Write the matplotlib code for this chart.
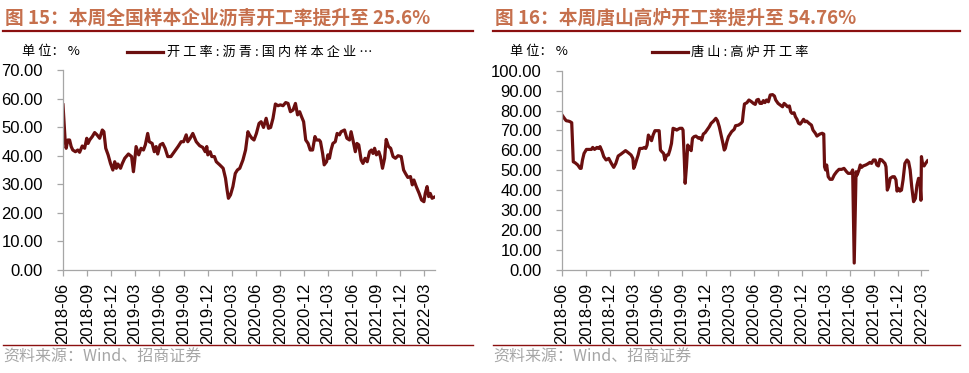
import matplotlib
matplotlib.use('Agg')
import matplotlib.pyplot as plt
import matplotlib.dates as mdates
from matplotlib.lines import Line2D
from matplotlib.ticker import FormatStrFormatter, MultipleLocator
import pandas as pd

# ---------------- data ----------------
titles = ['图 15：本周全国样本企业沥青开工率提升至 25.6%',
          '图 16：本周唐山高炉开工率提升至 54.76%']
legend_labels = ['开工率:沥青:国内样本企业…', '唐山:高炉开工率']
unit_label = '单 位： %'
source_label = '资料来源：Wind、招商证券'

asphalt_dates = (
    ['2018-06-01', '2018-06-09', '2018-06-13', '2018-06-19', '2018-06-26', '2018-07-02', '2018-07-08',
     '2018-07-18', '2018-07-27', '2018-08-03', '2018-08-13', '2018-08-22', '2018-08-30', '2018-09-04',
     '2018-09-10', '2018-09-20', '2018-09-29', '2018-10-08', '2018-10-18', '2018-10-28', '2018-11-03',
     '2018-11-10', '2018-11-19', '2018-11-28', '2018-12-07', '2018-12-14', '2018-12-20', '2018-12-26']
    + ['2019-01-05', '2019-01-12', '2019-01-21', '2019-02-04', '2019-02-16', '2019-02-23', '2019-02-28',
       '2019-03-05', '2019-03-15', '2019-03-24', '2019-04-02', '2019-04-09', '2019-04-18', '2019-04-24',
       '2019-05-05', '2019-05-13', '2019-05-20', '2019-05-26', '2019-06-04', '2019-06-14', '2019-06-23',
       '2019-07-03', '2019-07-15', '2019-07-28', '2019-08-11', '2019-08-23', '2019-09-01', '2019-09-11',
       '2019-09-17', '2019-09-26', '2019-10-06', '2019-10-19', '2019-11-01', '2019-11-13', '2019-11-22',
       '2019-11-28', '2019-12-02', '2019-12-11', '2019-12-17', '2019-12-27']
    + ['2020-01-03', '2020-01-16', '2020-01-29', '2020-02-07', '2020-02-13', '2020-02-18', '2020-02-26',
       '2020-03-06', '2020-03-15', '2020-03-23', '2020-04-01', '2020-04-13', '2020-04-23', '2020-05-02',
       '2020-05-08', '2020-05-17', '2020-05-25', '2020-06-03', '2020-06-13', '2020-06-21', '2020-06-30',
       '2020-07-10', '2020-07-19', '2020-07-27', '2020-08-05', '2020-08-14', '2020-08-24', '2020-09-02',
       '2020-09-12', '2020-09-22', '2020-10-01', '2020-10-10', '2020-10-20', '2020-10-29', '2020-11-06',
       '2020-11-14', '2020-11-21', '2020-11-29', '2020-12-07', '2020-12-16', '2020-12-24']
    + ['2021-01-02', '2021-01-11', '2021-01-17', '2021-01-27', '2021-02-01', '2021-02-09', '2021-02-15',
       '2021-02-24', '2021-03-01', '2021-03-07', '2021-03-13', '2021-03-20', '2021-03-29', '2021-04-05',
       '2021-04-14', '2021-04-20', '2021-05-03', '2021-05-12', '2021-05-22', '2021-05-28', '2021-06-04',
       '2021-06-13', '2021-06-19', '2021-06-26', '2021-07-05', '2021-07-12', '2021-07-20', '2021-07-28',
       '2021-08-06', '2021-08-13', '2021-08-19', '2021-08-25', '2021-09-01', '2021-09-10', '2021-09-16',
       '2021-09-24', '2021-10-02', '2021-10-08', '2021-10-17', '2021-10-25', '2021-11-03', '2021-11-12',
       '2021-11-22', '2021-12-04', '2021-12-13', '2021-12-20', '2021-12-29']
    + ['2022-01-08', '2022-01-15', '2022-01-21', '2022-01-30', '2022-02-10', '2022-02-19', '2022-02-28',
       '2022-03-05', '2022-03-12', '2022-03-18', '2022-03-24', '2022-03-31', '2022-04-06', '2022-04-11']
)
asphalt_rate = (
    [57.8, 45.5, 42.6, 45.5, 45.5, 43.2, 42.0, 41.4, 42.0, 41.2, 43.4, 42.6, 46.1, 44.3,
     45.5, 46.7, 48.1, 47.3, 46.1, 49.0, 48.4, 42.6, 40.3, 37.3, 35.0, 37.9, 35.6, 37.1]
    + [35.6, 37.3, 39.1, 40.6, 39.7, 34.4, 38.5, 43.2, 40.3, 42.6, 42.0, 43.8, 47.8, 44.9,
       44.3, 41.4, 43.2, 40.6, 43.8, 44.3, 42.6, 39.7, 39.7, 41.4, 43.2, 44.9, 44.9, 47.3,
       44.9, 46.1, 47.8, 44.9, 43.5, 42.9, 41.4, 43.2, 40.3, 41.4, 39.7, 39.7]
    + [37.9, 36.8, 35.6, 32.1, 28.0, 25.1, 26.3, 29.2, 33.8, 35.0, 35.6, 38.5, 42.0, 48.4,
       47.3, 46.1, 45.5, 47.8, 51.3, 51.9, 49.9, 53.1, 49.6, 49.9, 53.1, 58.1, 57.5, 57.8,
       57.5, 58.6, 58.3, 55.4, 56.0, 58.3, 54.3, 55.4, 53.7, 51.9, 45.5, 44.3, 42.0]
    + [42.0, 46.7, 45.5, 45.5, 44.9, 40.8, 36.8, 37.9, 40.3, 39.1, 42.0, 44.3, 44.9, 47.8,
       47.3, 48.4, 49.0, 46.1, 45.5, 48.4, 45.5, 41.4, 44.3, 43.8, 38.5, 37.3, 39.1, 37.9,
       41.4, 42.0, 40.8, 42.6, 40.3, 41.4, 39.7, 35.6, 39.1, 45.7, 43.2, 42.6, 39.7, 39.1,
       40.0, 39.7, 35.0, 33.8, 32.4]
    + [32.7, 29.8, 31.5, 29.2, 26.8, 24.5, 23.9, 26.8, 29.2, 25.7, 26.8, 25.1, 25.4, 25.6]
)

tangshan_dates = (
    ['2018-06-01', '2018-06-10', '2018-06-17', '2018-06-26', '2018-07-02', '2018-07-08', '2018-07-14',
     '2018-07-21', '2018-07-31', '2018-08-09', '2018-08-13', '2018-08-18', '2018-08-24', '2018-09-02',
     '2018-09-11', '2018-09-21', '2018-09-26', '2018-10-03', '2018-10-12', '2018-10-18', '2018-10-24',
     '2018-11-01', '2018-11-07', '2018-11-16', '2018-11-26', '2018-12-06', '2018-12-15', '2018-12-23']
    + ['2019-01-01', '2019-01-10', '2019-01-19', '2019-01-29', '2019-02-08', '2019-02-19', '2019-02-26',
       '2019-03-01', '2019-03-06', '2019-03-12', '2019-03-18', '2019-03-24', '2019-04-03', '2019-04-11',
       '2019-04-16', '2019-04-21', '2019-04-26', '2019-05-01', '2019-05-08', '2019-05-14', '2019-05-21',
       '2019-05-27', '2019-06-06', '2019-06-11', '2019-06-16', '2019-06-23', '2019-06-28', '2019-07-05',
       '2019-07-11', '2019-07-17', '2019-07-23', '2019-07-29', '2019-08-06', '2019-08-12', '2019-08-18',
       '2019-08-24', '2019-09-01', '2019-09-05', '2019-09-10', '2019-09-13', '2019-09-18', '2019-09-23',
       '2019-09-29', '2019-10-06', '2019-10-11', '2019-10-17', '2019-10-24', '2019-11-03', '2019-11-09',
       '2019-11-15', '2019-11-21', '2019-11-28', '2019-12-05', '2019-12-14', '2019-12-21', '2019-12-30']
    + ['2020-01-08', '2020-01-14', '2020-01-21', '2020-01-28', '2020-02-04', '2020-02-09', '2020-02-13',
       '2020-02-19', '2020-02-25', '2020-03-08', '2020-03-18', '2020-03-23', '2020-04-03', '2020-04-13',
       '2020-04-18', '2020-04-22', '2020-04-26', '2020-05-05', '2020-05-13', '2020-05-23', '2020-05-30',
       '2020-06-06', '2020-06-12', '2020-06-18', '2020-06-24', '2020-07-01', '2020-07-07', '2020-07-13',
       '2020-07-19', '2020-07-26', '2020-08-02', '2020-08-11', '2020-08-18', '2020-08-23', '2020-09-01',
       '2020-09-09', '2020-09-18', '2020-09-24', '2020-10-01', '2020-10-07', '2020-10-14', '2020-10-19',
       '2020-10-24', '2020-11-01', '2020-11-06', '2020-11-12', '2020-11-18', '2020-11-24', '2020-12-01',
       '2020-12-07', '2020-12-13', '2020-12-19', '2020-12-28']
    + ['2021-01-06', '2021-01-12', '2021-01-21', '2021-01-27', '2021-02-07', '2021-02-16', '2021-02-22',
       '2021-02-25', '2021-03-01', '2021-03-05', '2021-03-11', '2021-03-18', '2021-03-26', '2021-04-03',
       '2021-04-12', '2021-04-21', '2021-05-01', '2021-05-10', '2021-05-20', '2021-05-26', '2021-06-06',
       '2021-06-12', '2021-06-18', '2021-06-25', '2021-06-29', '2021-07-06', '2021-07-11', '2021-07-16',
       '2021-07-22', '2021-08-01', '2021-08-08', '2021-08-17', '2021-08-23', '2021-08-30', '2021-09-06',
       '2021-09-12', '2021-09-18', '2021-09-24', '2021-10-01', '2021-10-07', '2021-10-13', '2021-10-17',
       '2021-10-22', '2021-10-27', '2021-11-02', '2021-11-11', '2021-11-18', '2021-11-24', '2021-11-28',
       '2021-12-03', '2021-12-09', '2021-12-15', '2021-12-21', '2021-12-28']
    + ['2022-01-05', '2022-01-11', '2022-01-17', '2022-01-23', '2022-01-30', '2022-02-06', '2022-02-12',
       '2022-02-18', '2022-02-23', '2022-02-27', '2022-03-01', '2022-03-05', '2022-03-11', '2022-03-17',
       '2022-03-24']
)
tangshan_rate = (
    [77.8, 76.1, 74.9, 74.7, 74.4, 73.9, 54.3, 53.8, 52.7, 51.0, 51.0, 55.2, 58.5, 60.5,
     60.5, 60.5, 61.5, 60.5, 61.5, 61.0, 61.9, 59.4, 56.9, 55.2, 56.0, 53.5, 51.5, 53.5]
    + [57.2, 58.0, 58.9, 59.9, 58.9, 57.7, 56.0, 51.0, 52.5, 55.2, 57.7, 61.0, 61.0, 61.5,
       61.0, 62.7, 67.7, 66.6, 64.9, 67.7, 69.9, 69.9, 69.9, 60.2, 59.4, 58.5, 55.2, 57.7,
       57.7, 60.2, 63.5, 71.1, 70.7, 70.2, 70.7, 71.1, 71.1, 70.2, 55.2, 43.5, 51.8, 62.7,
       61.0, 59.9, 66.1, 66.9, 67.2, 66.1, 66.4, 65.2, 68.2, 68.9, 70.2, 71.9, 73.6, 74.7]
    + [76.1, 74.9, 71.9, 67.7, 63.5, 60.2, 61.0, 64.4, 66.9, 69.4, 70.6, 72.4, 72.7, 73.6,
       74.4, 79.4, 83.3, 83.9, 85.3, 84.4, 83.6, 83.1, 85.3, 85.6, 83.6, 83.6, 85.0, 84.0,
       85.3, 84.4, 87.8, 88.0, 87.3, 85.3, 83.6, 82.8, 81.9, 83.6, 82.8, 81.9, 82.3, 79.4,
       78.6, 78.9, 76.9, 75.6, 73.6, 73.2, 74.4, 75.6, 74.4, 74.7, 73.6]
    + [72.7, 70.2, 68.6, 67.2, 68.2, 68.6, 68.2, 51.8, 50.2, 52.7, 46.8, 45.5, 45.5, 47.7,
       49.3, 50.5, 50.5, 51.0, 49.3, 48.5, 48.5, 50.2, 3.5, 49.3, 47.7, 50.2, 52.7, 51.5,
       52.2, 52.7, 53.2, 54.0, 53.5, 55.2, 55.2, 52.7, 52.2, 55.5, 55.2, 54.3, 53.5, 51.8,
       40.1, 41.8, 46.0, 46.8, 46.8, 45.2, 39.6, 41.0, 39.6, 40.1, 45.2, 53.5]
    + [55.2, 54.3, 50.2, 41.8, 34.3, 35.9, 42.6, 46.0, 45.2, 35.0, 56.9, 53.5, 52.2, 53.5,
       54.76]
)

y_max = [70, 100]
x_end = ['2022-04-11', '2022-03-26']
tick_months = pd.date_range('2018-06-01', '2022-03-01', freq='3MS')

# ---------------- style ----------------
W, H = 970, 373
LINE_C = '#6B0F0F'
RULE_C = '#8B1010'
TITLE_C = '#C6704D'
AXIS_C = '#A6A6A6'
CJK = ['Noto Sans CJK SC', 'DejaVu Sans']
plt.rcParams['font.family'] = ['Liberation Sans', 'Noto Sans CJK SC', 'DejaVu Sans']

fig = plt.figure(figsize=(W / 100, H / 100), dpi=100)


def fx(px):
    return px / W


def fy(py):
    return 1 - py / H


panels = [
    dict(dates=asphalt_dates, vals=asphalt_rate, ax=[63, 70, 435, 270],
         title_x=5, rule=(3, 473), unit_x=22, leg=(127, 163, 167), src_x=3),
    dict(dates=tangshan_dates, vals=tangshan_rate, ax=[562, 70.7, 928, 270],
         title_x=495, rule=(493, 960), unit_x=510, leg=(652, 688, 691), src_x=493),
]

for i, p in enumerate(panels):
    assert len(p['dates']) == len(p['vals'])
    x0, y0, x1, y1 = p['ax']
    ax = fig.add_axes([fx(x0), fy(y1), (x1 - x0) / W, (y1 - y0) / H])
    d = pd.to_datetime(p['dates'])
    ax.plot(d, p['vals'], color=LINE_C, lw=2.3, solid_joinstyle='round')
    ax.set_ylim(0, y_max[i])
    ax.set_xlim(pd.Timestamp('2018-06-01'), pd.Timestamp(x_end[i]))
    ax.yaxis.set_major_locator(MultipleLocator(10))
    ax.yaxis.set_major_formatter(FormatStrFormatter('%.2f'))
    ax.set_xticks(tick_months)
    ax.xaxis.set_major_formatter(mdates.DateFormatter('%Y-%m'))
    for s in ['top', 'right']:
        ax.spines[s].set_visible(False)
    for s in ['left', 'bottom']:
        ax.spines[s].set_color(AXIS_C)
        ax.spines[s].set_linewidth(0.9)
    ax.tick_params(axis='y', direction='out', length=4, width=0.9, color=AXIS_C,
                   labelsize=12, pad=10.5, labelcolor='black')
    ax.tick_params(axis='x', direction='out', length=4, width=0.9, color=AXIS_C,
                   labelsize=12, pad=5, labelcolor='black', labelrotation=90)

    # title and rules
    fig.text(fx(p['title_x']), fy(18), titles[i], fontsize=13.5, fontweight='bold',
             color=TITLE_C, family=CJK, va='center', ha='left')
    fig.add_artist(Line2D([fx(p['rule'][0]), fx(p['rule'][1])], [fy(31), fy(31)],
                          color=RULE_C, lw=1.6))
    fig.add_artist(Line2D([fx(p['rule'][0]), fx(p['rule'][1])], [fy(345), fy(345)],
                          color=RULE_C, lw=1.0))
    # unit + legend
    fig.text(fx(p['unit_x']), fy(52), unit_label, fontsize=9.5, family=CJK,
             va='center', ha='left', color='black')
    fig.add_artist(Line2D([fx(p['leg'][0]), fx(p['leg'][1])], [fy(52), fy(52)],
                          color=LINE_C, lw=2.3))
    fig.text(fx(p['leg'][2]), fy(52), ' '.join(legend_labels[i]), fontsize=9.5,
             family=CJK, va='center', ha='left', color='black')
    # source
    fig.text(fx(p['src_x']), fy(357), source_label, fontsize=11.5, family=CJK,
             color='#A6A6A6', va='center', ha='left')

fig.savefig('out.png', dpi=100)
